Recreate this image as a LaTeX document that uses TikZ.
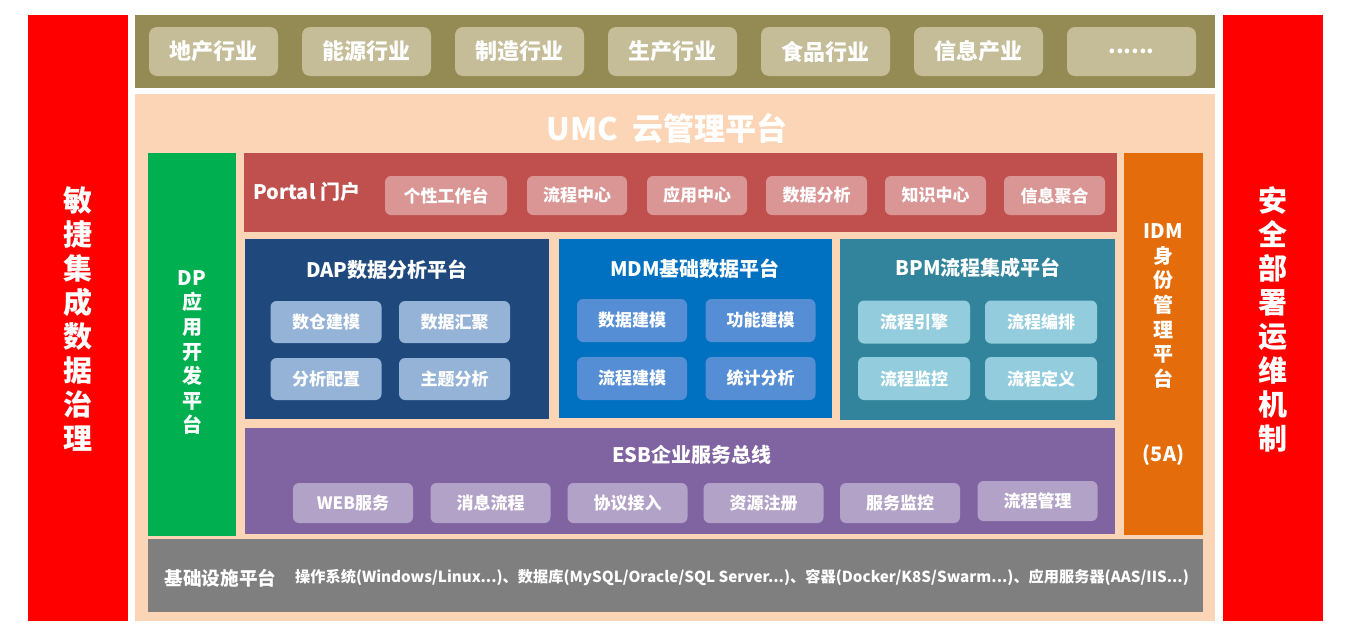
\documentclass[tikz,border=0pt]{standalone}
\usepackage{fontspec}
\setmainfont{Noto Sans CJK SC}
\usetikzlibrary{positioning}

\definecolor{govred}{HTML}{FF0000}
\definecolor{olive}{HTML}{948A54}
\definecolor{indbtn}{HTML}{C4BD97}
\definecolor{peach}{HTML}{FBD5B5}
\definecolor{dpgreen}{HTML}{00B050}
\definecolor{portalred}{HTML}{C0504D}
\definecolor{portalbtn}{HTML}{D99694}
\definecolor{dapblue}{HTML}{1F497D}
\definecolor{dapbtn}{HTML}{95B3D7}
\definecolor{mdmblue}{HTML}{0070C0}
\definecolor{mdmbtn}{HTML}{558ED5}
\definecolor{bpmteal}{HTML}{31849B}
\definecolor{bpmbtn}{HTML}{93CDDD}
\definecolor{esbpurple}{HTML}{8064A2}
\definecolor{esbbtn}{HTML}{B3A2C7}
\definecolor{idmorange}{HTML}{E46C0A}
\definecolor{basegray}{HTML}{7F7F7F}

\newcommand{\moredots}{......}
\def\industrylist{{(213.5,51.5)/ind1/地产行业}, {(366.5,51.5)/ind2/能源行业}, {(519.5,51.5)/ind3/制造行业}, {(672.5,51.5)/ind4/生产行业}, {(825.5,51.5)/ind5/食品行业}, {(978.5,51.5)/ind6/信息产业}, {(1131.5,51.5)/ind7/\moredots}}
\def\portallist{{(446,195.5)/pt1/122/个性工作台}, {(577,195.5)/pt2/100/流程中心}, {(697,195.5)/pt3/100/应用中心}, {(816.5,195.5)/pt4/101/数据分析}, {(935.5,195.5)/pt5/101/知识中心}, {(1054.5,195.5)/pt6/101/信息聚合}}
\def\daplist{{(326,322)/dap1/数仓建模}, {(454.5,322)/dap2/数据汇聚}, {(326,379)/dap3/分析配置}, {(454.5,379)/dap4/主题分析}}
\def\mdmlist{{(632,320.5)/mdm1/数据建模}, {(760.5,320.5)/mdm2/功能建模}, {(632,378.5)/mdm3/流程建模}, {(760.5,378.5)/mdm4/统计分析}}
\def\bpmlist{{(914,322)/bpm1/流程引擎}, {(1041,322)/bpm2/流程编排}, {(914,378.5)/bpm3/流程监控}, {(1041,378.5)/bpm4/流程定义}}
\def\esblist{{(353,503)/esb1/WEB服务}, {(490.5,503)/esb2/消息流程}, {(627.5,503)/esb3/协议接入}, {(763.5,503)/esb4/资源注册}, {(900,503)/esb5/服务监控}, {(1037.5,501)/esb6/流程管理}}

\tikzstyle{block}=[rectangle,inner sep=0pt,text=white]
\tikzstyle{sidebar}=[block,fill=govred,minimum width=100pt,minimum height=606pt]
\tikzstyle{sidetext}=[text=white,align=center,inner sep=0pt,font=\fontsize{29}{34}\selectfont\bfseries]
\tikzstyle{industry}=[block,fill=indbtn,rounded corners=8pt,minimum width=129pt,minimum height=49pt,font=\fontsize{22}{26}\selectfont\bfseries]
\tikzstyle{btn}=[block,rounded corners=6pt,font=\fontsize{17}{20}\selectfont\bfseries]
\tikzstyle{title}=[text=white,inner sep=0pt,font=\fontsize{20}{24}\selectfont\bfseries]
\tikzstyle{coltext}=[text=white,align=center,inner sep=0pt,font=\fontsize{20}{24.6}\selectfont\bfseries]

\begin{document}
\begin{tikzpicture}[x=1pt,y=-1pt]
  \useasboundingbox[fill=white] (0,0) rectangle (1352,635);

  % Side bars
  \node[sidebar] (agile) at (78,318) {};
  \node[sidebar] (secure) at (1273,318) {};
  \node[sidetext] (agile-txt) at (78,319) {敏\\捷\\集\\成\\数\\据\\治\\理};
  \node[sidetext] (secure-txt) at (1273,319) {安\\全\\部\\署\\运\\维\\机\\制};

  % Industries on top
  \node[block,fill=olive,minimum width=1080pt,minimum height=73pt] (industries) at (675,51.5) {};
  \foreach \pos/\name/\txt in \industrylist
    \node[industry] (\name) at \pos {\txt};

  % The UMC platform
  \node[block,fill=peach,minimum width=1080pt,minimum height=527pt] (umc) at (675,357.5) {};
  \node[text=white,inner sep=0pt,font=\fontsize{31}{36}\selectfont\bfseries] (umc-title) at (667,128) {UMC\hspace{0.45em}云管理平台};

  \node[block,fill=dpgreen,minimum width=88pt,minimum height=383pt] (dp) at (192,344.5) {};
  \node[coltext] (dp-txt) at (192,352.5) {DP\\应\\用\\开\\发\\平\\台};

  \node[block,fill=idmorange,minimum width=79pt,minimum height=382pt] (idm) at (1163.5,344) {};
  \node[coltext] (idm-txt) at (1163.5,306) {IDM\\身\\份\\管\\理\\平\\台};
  \node[title] (idm-5a) at (1163.5,455) {(5A)};

  % Portal
  \node[block,fill=portalred,minimum width=873pt,minimum height=79pt] (portal) at (680.5,192.5) {};
  \node[title,anchor=west] (portal-title) at (253,192) {Portal 门户};
  \foreach \pos/\name/\w/\txt in \portallist
    \node[btn,fill=portalbtn,minimum width=\w pt,minimum height=39pt] (\name) at \pos {\txt};

  % DAP, MDM, BPM
  \node[block,fill=dapblue,minimum width=304pt,minimum height=180pt] (dap) at (397,329) {};
  \node[title] (dap-title) at (387,270) {DAP数据分析平台};
  \foreach \pos/\name/\txt in \daplist
    \node[btn,fill=dapbtn,minimum width=111pt,minimum height=42pt] (\name) at \pos {\txt};

  \node[block,fill=mdmblue,minimum width=273pt,minimum height=179pt] (mdm) at (695.5,328.5) {};
  \node[title] (mdm-title) at (695,269) {MDM基础数据平台};
  \foreach \pos/\name/\txt in \mdmlist
    \node[btn,fill=mdmbtn,minimum width=110pt,minimum height=43pt] (\name) at \pos {\txt};

  \node[block,fill=bpmteal,minimum width=275pt,minimum height=181pt] (bpm) at (977.5,329.5) {};
  \node[title] (bpm-title) at (978,268) {BPM流程集成平台};
  \foreach \pos/\name/\txt in \bpmlist
    \node[btn,fill=bpmbtn,minimum width=112pt,minimum height=43pt] (\name) at \pos {\txt};

  % ESB
  \node[block,fill=esbpurple,minimum width=870pt,minimum height=106pt] (esb) at (680,481) {};
  \node[title] (esb-title) at (692,455) {ESB企业服务总线};
  \foreach \pos/\name/\txt in \esblist
    \node[btn,fill=esbbtn,minimum width=120pt,minimum height=40pt] (\name) at \pos {\txt};

  % Infrastructure
  \node[block,fill=basegray,minimum width=1055pt,minimum height=73pt] (base) at (675.5,575.5) {};
  \node[title,font=\fontsize{18.6}{22}\selectfont\bfseries] (base-title) at (220.5,578) {基础设施平台};
  \node[title,anchor=west,font=\fontsize{15.2}{18}\selectfont\bfseries] (base-txt) at (295,578) {操作系统(Windows/Linux...)、数据库(MySQL/Oracle/SQL Server...)、容器(Docker/K8S/Swarm...)、应用服务器(AAS/IIS...)};
\end{tikzpicture}
\end{document}
